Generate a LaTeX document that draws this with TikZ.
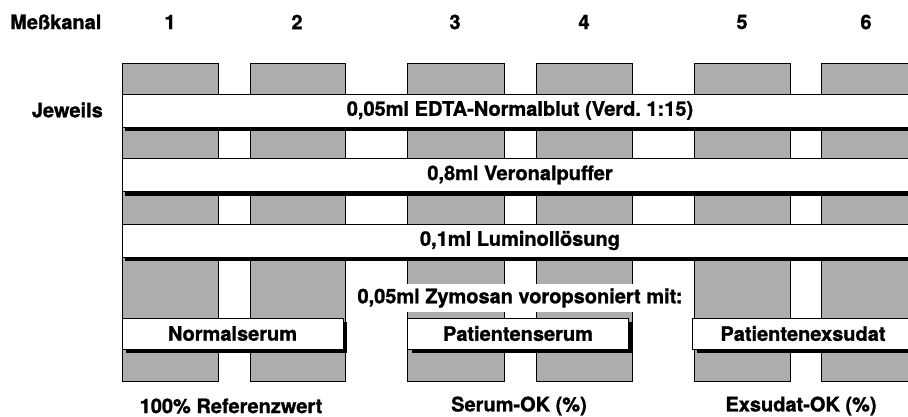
\documentclass[tikz,border=0pt]{standalone}
\usepackage{fontspec}
\setmainfont{TeX Gyre Heros}[BoldFeatures={FakeBold=1.2}]
\usetikzlibrary{shadows}
\newcommand\dlbl{\fontsize{20}{24}\selectfont\bfseries}
\begin{document}
\begin{tikzpicture}[x=1pt,y=-1pt,
  colbox/.style={draw=black,line width=0.8pt,fill=black!32},
  bar/.style={draw=black,line width=0.6pt,fill=white,minimum width=796pt,minimum height=33pt,inner sep=0pt,font=\dlbl,
    drop shadow={shadow xshift=3pt,shadow yshift=-4pt,fill=black,opacity=1}},
  sbox/.style={draw=black,line width=0.6pt,fill=white,minimum width=221pt,minimum height=31pt,inner sep=0pt,font=\dlbl,
    drop shadow={shadow xshift=4pt,shadow yshift=-4pt,fill=black,opacity=1}},
  lab/.style={font=\dlbl,inner sep=0pt}
]
\useasboundingbox (0,0) rectangle (908,416);
\clip (0,0) rectangle (908,416);
% columns
\draw[colbox] (122,63) rectangle (218,381);
\draw[colbox] (250,63) rectangle (345,381);
\draw[colbox] (407,63) rectangle (504,381);
\draw[colbox] (536,63) rectangle (632,381);
\draw[colbox] (694,63) rectangle (790,381);
\draw[colbox] (821,63) rectangle (940,381);
% header
\node[lab,anchor=west] (mk) at (10,22) {Meßkanal};
\node[lab] (n1) at (170,22) {1};
\node[lab] (n2) at (297,22) {2};
\node[lab] (n3) at (455,22) {3};
\node[lab] (n4) at (584,22) {4};
\node[lab] (n5) at (742,22) {5};
\node[lab] (n6) at (866,22) {6};
\node[lab,anchor=east] (jw) at (103,110) {Jeweils};
% bars
\node[bar] (b1) at (520,110.5) {0,05ml EDTA-Normalblut (Verd.\ 1:15)};
\node[bar] (b2) at (520,175) {0,8ml Veronalpuffer};
\node[bar] (b3) at (520,240.5) {0,1ml Luminollösung};
% zymosan
\node[lab,fill=white,inner xsep=2pt,inner ysep=4pt] (zy) at (520,298) {0,05ml Zymosan voropsoniert mit:};
\node[sbox] (s1) at (232.5,333.5) {Normalserum};
\node[sbox] (s2) at (518,333.5) {Patientenserum};
\node[sbox] (s3) at (803,333.5) {Patientenexsudat};
% bottom labels
\node[lab] (r1) at (231,406) {100\% Referenzwert};
\node[lab] (r2) at (519,406) {Serum-OK (\%)};
\node[lab] (r3) at (801,406) {Exsudat-OK (\%)};
\end{tikzpicture}
\end{document}
